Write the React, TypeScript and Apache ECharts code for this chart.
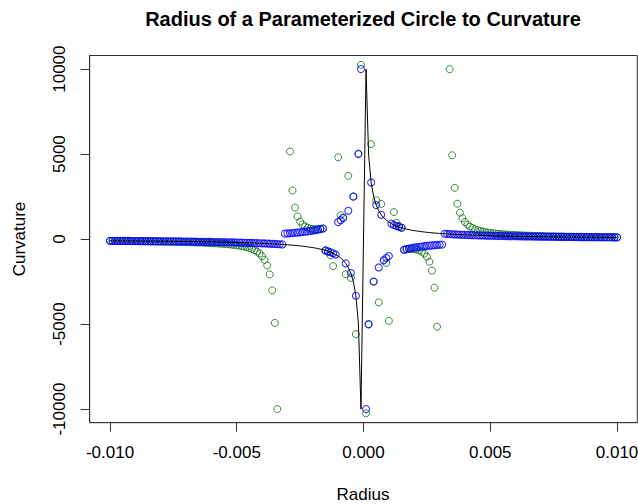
import React, { useEffect, useRef } from "react";
import * as echarts from "echarts";

// Radius in units of 1e-4 (from -0.0100 to 0.0100, zero excluded)
const radiusE4 = [
  -100, -99, -98, -97, -96, -95, -94, -93, -92, -91, -90, -89, -88, -87, -86, -85, -84, -83, -82, -81,
  -80, -79, -78, -77, -76, -75, -74, -73, -72, -71, -70, -69, -68, -67, -66, -65, -64, -63, -62, -61,
  -60, -59, -58, -57, -56, -55, -54, -53, -52, -51, -50, -49, -48, -47, -46, -45, -44, -43, -42, -41,
  -40, -39, -38, -37, -36, -35, -34, -33, -32, -31, -30, -29, -28, -27, -26, -25, -24, -23, -22, -21,
  -20, -19, -18, -17, -16, -15, -14, -13, -12, -11, -10, -9, -8, -7, -6, -5, -4, -3, -2, -1,
  1, 2, 3, 4, 5, 6, 7, 8, 9, 10, 11, 12, 13, 14, 15, 16, 17, 18, 19, 20,
  21, 22, 23, 24, 25, 26, 27, 28, 29, 30, 31, 32, 33, 34, 35, 36, 37, 38, 39, 40,
  41, 42, 43, 44, 45, 46, 47, 48, 49, 50, 51, 52, 53, 54, 55, 56, 57, 58, 59, 60,
  61, 62, 63, 64, 65, 66, 67, 68, 69, 70, 71, 72, 73, 74, 75, 76, 77, 78, 79, 80,
  81, 82, 83, 84, 85, 86, 87, 88, 89, 90, 91, 92, 93, 94, 95, 96, 97, 98, 99, 100,
];

// Exact curvature 1/r (black line)
const exactCurvature = [
  -100, -101, -102, -103, -104, -105, -106, -108, -109, -110, -111, -112, -114, -115, -116, -118, -119, -120, -122, -123,
  -125, -127, -128, -130, -132, -133, -135, -137, -139, -141, -143, -145, -147, -149, -152, -154, -156, -159, -161, -164,
  -167, -169, -172, -175, -179, -182, -185, -189, -192, -196, -200, -204, -208, -213, -217, -222, -227, -233, -238, -244,
  -250, -256, -263, -270, -278, -286, -294, -303, -313, -323, -333, -345, -357, -370, -385, -400, -417, -435, -455, -476,
  -500, -526, -556, -588, -625, -667, -714, -769, -833, -909, -1000, -1111, -1250, -1429, -1667, -2000, -2500, -3333, -5000, -10000,
  10000, 5000, 3333, 2500, 2000, 1667, 1429, 1250, 1111, 1000, 909, 833, 769, 714, 667, 625, 588, 556, 526, 500,
  476, 455, 435, 417, 400, 385, 370, 357, 345, 333, 323, 313, 303, 294, 286, 278, 270, 263, 256, 250,
  244, 238, 233, 227, 222, 217, 213, 208, 204, 200, 196, 192, 189, 185, 182, 179, 175, 172, 169, 167,
  164, 161, 159, 156, 154, 152, 149, 147, 145, 143, 141, 139, 137, 135, 133, 132, 130, 128, 127, 125,
  123, 122, 120, 119, 118, 116, 115, 114, 112, 111, 110, 109, 108, 106, 105, 104, 103, 102, 101, 100,
];

// Numerical curvature, method A (blue points)
const curvatureBlue = [
  -100, -101, -102, -103, -104, -105, -106, -108, -109, -110, -111, -112, -114, -115, -116, -118, -119, -120, -122, -123,
  -125, -127, -128, -130, -132, -133, -135, -137, -139, -141, -143, -145, -147, -149, -152, -154, -156, -159, -161, -164,
  -167, -169, -172, -175, -179, -182, -185, -189, -192, -196, -200, -204, -208, -213, -217, -222, -227, -233, -238, -244,
  -250, -256, -263, -270, -278, -286, -294, -303, -313, 323, 333, 345, 357, 370, 385, 400, 417, 435, 455, 476,
  500, 526, 556, 588, 625, -667, -714, -769, -833, -909, 1000, 1111, 1250, -1429, 1667, -2000, 2500, -3333, 5000, 10000,
  -10000, -5000, 3333, -2500, 2000, -1667, 1429, -1250, -1111, -1000, 909, 833, 769, 714, 667, -625, -588, -556, -526, -500,
  -476, -455, -435, -417, -400, -385, -370, -357, -345, -333, -323, 313, 303, 294, 286, 278, 270, 263, 256, 250,
  244, 238, 233, 227, 222, 217, 213, 208, 204, 200, 196, 192, 189, 185, 182, 179, 175, 172, 169, 167,
  164, 161, 159, 156, 154, 152, 149, 147, 145, 143, 141, 139, 137, 135, 133, 132, 130, 128, 127, 125,
  123, 122, 120, 119, 118, 116, 115, 114, 112, 111, 110, 109, 108, 106, 105, 104, 103, 102, 101, 100,
];

// Numerical curvature, method B (green points); null = outside the plotted range
const curvatureGreen = [
  -110, -111, -113, -114, -116, -117, -119, -120, -122, -124, -125, -127, -129, -131, -133, -135, -137, -139, -142, -144,
  -147, -149, -152, -155, -158, -161, -164, -167, -171, -175, -179, -183, -187, -192, -197, -202, -207, -213, -220, -227,
  -234, -242, -251, -260, -270, -282, -294, -308, -324, -342, -362, -385, -412, -443, -481, -525, -579, -648, -735, -849,
  -1005, -1225, -1554, -2081, -3017, -4929, -9994, null, null, null, null, 5152, 2860, 1855, 1332, 1036, 856, 740, 666, 620,
  593, 581, 582, 596, 625, -675, -764, -955, -1587, null, 4810, 1405, 1250, -2070, 3722, -2280, 2504, -5588, 5030, 10247,
  -10247, -5030, 5588, -2504, 2280, -3722, 2070, -1250, -1405, -4810, null, 1587, 955, 764, 675, -625, -596, -582, -581, -593,
  -620, -666, -740, -856, -1036, -1332, -1855, -2860, -5152, null, null, null, null, 9994, 4929, 3017, 2081, 1554, 1225, 1005,
  849, 735, 648, 579, 525, 481, 443, 412, 385, 362, 342, 324, 308, 294, 282, 270, 260, 251, 242, 234,
  227, 220, 213, 207, 202, 197, 192, 187, 183, 179, 175, 171, 167, 164, 161, 158, 155, 152, 149, 147,
  144, 142, 139, 137, 135, 133, 131, 129, 127, 125, 124, 122, 120, 119, 117, 116, 114, 113, 111, 110,
];

const xTicks = [-0.01, -0.005, 0, 0.005, 0.01];
const yTicks = [-10000, -5000, 0, 5000, 10000];

const FONT = '"Liberation Sans", Arial, sans-serif';

function pairs(ys: (number | null)[]) {
  const out: number[][] = [];
  radiusE4.forEach((r, i) => {
    const y = ys[i];
    if (y !== null && y !== undefined) out.push([r / 10000, y]);
  });
  return out;
}

export default function App() {
  const ref = useRef<HTMLDivElement>(null);
  useEffect(() => {
    if (!ref.current) return;
    const chart = echarts.init(ref.current, null, { renderer: "svg" });
    const axisColor = "#333";
    chart.setOption({
      animation: false,
      backgroundColor: "#fff",
      grid: {
        left: 89.7,
        right: 0.7,
        top: 55.5,
        bottom: 81.3,
        show: true,
        borderColor: axisColor,
        borderWidth: 1,
        containLabel: false,
        outerBoundsMode: "none",
      },
      graphic: [
        {
          type: "text",
          x: 363,
          y: 19,
          style: {
            text: "Radius of a Parameterized Circle to Curvature",
            font: `bold 20px ${FONT}`,
            fill: "#000",
            textAlign: "center",
            textVerticalAlign: "middle",
          },
        },
        {
          type: "text",
          x: 363,
          y: 494,
          style: {
            text: "Radius",
            font: `17px ${FONT}`,
            fill: "#000",
            textAlign: "center",
            textVerticalAlign: "middle",
          },
        },
        {
          type: "text",
          x: 19,
          y: 239,
          rotation: Math.PI / 2,
          style: {
            text: "Curvature",
            font: `17px ${FONT}`,
            fill: "#000",
            textAlign: "center",
            textVerticalAlign: "middle",
          },
        },
      ],
      xAxis: {
        type: "value",
        min: -0.0108,
        max: 0.0108,
        splitLine: { show: false },
        axisLine: { show: true, onZero: false, lineStyle: { color: axisColor, width: 1 } },
        axisTick: {
          show: true,
          length: 9,
          inside: false,
          customValues: xTicks,
          lineStyle: { color: axisColor, width: 1 },
        },
        axisLabel: {
          customValues: xTicks,
          formatter: (v: number) => v.toFixed(3),
          fontSize: 17,
          fontFamily: FONT,
          color: "#000",
          margin: 21,
        },
      },
      yAxis: {
        type: "value",
        min: -10800,
        max: 10800,
        splitLine: { show: false },
        axisLine: { show: true, onZero: false, lineStyle: { color: axisColor, width: 1 } },
        axisTick: {
          show: true,
          length: 9,
          inside: false,
          customValues: yTicks,
          lineStyle: { color: axisColor, width: 1 },
        },
        axisLabel: {
          customValues: yTicks,
          formatter: (v: number) => String(v),
          rotate: 90,
          fontSize: 17,
          fontFamily: FONT,
          color: "#000",
          margin: 22,
        },
      },
      series: [
        {
          type: "scatter",
          name: "Curvature B",
          data: pairs(curvatureGreen),
          symbol: "circle",
          symbolSize: 7,
          itemStyle: { color: "rgba(0,0,0,0)", borderColor: "#0a6e0a", borderWidth: 1 },
          clip: true,
        },
        {
          type: "scatter",
          name: "Curvature A",
          data: pairs(curvatureBlue),
          symbol: "circle",
          symbolSize: 7,
          itemStyle: { color: "rgba(0,0,0,0)", borderColor: "#0000ff", borderWidth: 1.1 },
          clip: true,
        },
        {
          type: "line",
          name: "1/r",
          data: pairs(exactCurvature),
          showSymbol: false,
          symbol: "none",
          lineStyle: { color: "#000", width: 1 },
          clip: true,
        },
      ],
    });
    return () => chart.dispose();
  }, []);
  return (
    <div
      ref={ref}
      style={{ position: "fixed", left: 0, top: 0, width: 638, height: 504, background: "#fff" }}
    />
  );
}
